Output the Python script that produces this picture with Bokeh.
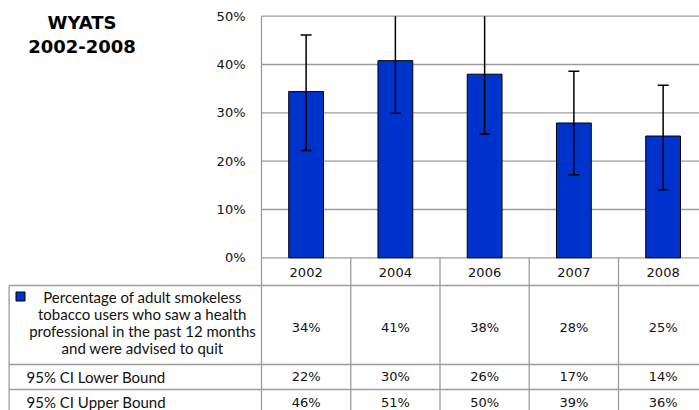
import numpy as np
from bokeh.plotting import figure
from bokeh.models import Range1d
from bokeh.core.properties import value
from bokeh.embed import file_html
from bokeh.resources import INLINE

# ---------------- data ----------------
years = ["2002", "2004", "2006", "2007", "2008"]
pct = [34.4, 40.8, 38.0, 27.9, 25.2]
ci_low = [22.2, 29.9, 25.6, 17.2, 14.1]
ci_high = [46.1, 51.0, 50.4, 38.6, 35.7]
y_ticks = [0, 10, 20, 30, 40, 50]
tick_labels = ["0%", "10%", "20%", "30%", "40%", "50%"]
title_lines = ["WYATS", "2002-2008"]
series_label = ["Percentage of adult smokeless",
                "tobacco users who saw a health",
                "professional in the past 12 months",
                "and were advised to quit"]
row_labels = ["95% CI Lower Bound", "95% CI Upper Bound"]

# ---------------- layout (pixels) ----------------
W, H = 699, 410
AXIS_PX = 261.0          # left edge of chart area
COL_W = 89.25            # width of one category column
ZERO_PX = 257.3          # y pixel of 0%
PX_PER_PCT = 4.832
YMAX = 50

x_start = -AXIS_PX / COL_W
x_end = (W - AXIS_PX) / COL_W
y_end = YMAX + (ZERO_PX - PX_PER_PCT * YMAX) / PX_PER_PCT
y_start = -(H - ZERO_PX) / PX_PER_PCT

p = figure(width=W, height=H, x_range=Range1d(x_start, x_end),
           y_range=Range1d(y_start, y_end), output_backend="svg",
           toolbar_location=None, min_border=0, x_axis_type=None,
           y_axis_type=None, outline_line_color=None)
p.extra_x_ranges = {"px": Range1d(0, W)}
p.extra_y_ranges = {"px": Range1d(H, 0)}
p.background_fill_color = "white"
p.border_fill_color = "white"

GRID = "#9c9c9c"
n = len(years)
xc = np.arange(n) + 0.5

# gridlines
p.segment(x0=0, x1=n, y0=y_ticks, y1=y_ticks, line_color=GRID, line_width=1.3)
# axis line
p.segment(x0=0, x1=0, y0=0, y1=YMAX, line_color=GRID, line_width=1.3)

# bars
p.vbar(x=xc, top=pct, bottom=0, width=0.39, fill_color="#0033cc",
       line_color="black", line_width=1)

# error bars (clipped at plot top)
hi = np.minimum(np.array(ci_high), YMAX)
lo = np.array(ci_low)
p.segment(x0=xc, x1=xc, y0=lo, y1=hi, line_color="black", line_width=1.5)
cap = 5.5 / COL_W
p.segment(x0=xc - cap, x1=xc + cap, y0=lo, y1=lo, line_color="black", line_width=1.5)
mask = np.array(ci_high) <= YMAX
p.segment(x0=xc[mask] - cap, x1=xc[mask] + cap, y0=np.array(ci_high)[mask],
          y1=np.array(ci_high)[mask], line_color="black", line_width=1.5)

# y tick labels
p.text(x=0, y=y_ticks, text=tick_labels, x_offset=-16, text_align="right",
       text_baseline="middle", text_font=value("DejaVu Sans"),
       text_font_size="13px", text_color="#111111")

# title
p.text(x=81.5, y=[22, 46], text=title_lines, x_range_name="px", y_range_name="px",
       text_align="center", text_baseline="middle", text_font=value("DejaVu Sans"),
       text_font_style="bold", text_font_size="18px", text_color="black")

# ---------------- table ----------------
ROW_LINES = [285.0, 364.0, 389.0]
cols = np.arange(n + 1)
p.segment(x0=cols, x1=cols, y0=ZERO_PX, y1=H, y_range_name="px",
          line_color=GRID, line_width=1.3)
p.segment(x0=0, x1=n, y0=ROW_LINES, y1=ROW_LINES, y_range_name="px",
          line_color=GRID, line_width=1.3)
p.segment(x0=8.6, x1=AXIS_PX, y0=ROW_LINES, y1=ROW_LINES, x_range_name="px",
          y_range_name="px", line_color=GRID, line_width=1.3)
p.segment(x0=8.6, x1=8.6, y0=ROW_LINES[0], y1=H, x_range_name="px",
          y_range_name="px", line_color=GRID, line_width=1.3)

VAL_FONT = dict(text_font=value("DejaVu Sans"), text_font_size="13px",
                text_color="#111111", text_align="center", text_baseline="middle")
p.text(x=xc, y=272, text=years, y_range_name="px", **VAL_FONT)
p.text(x=xc, y=326.7, text=[f"{round(v)}%" for v in pct], y_range_name="px", **VAL_FONT)
p.text(x=xc, y=376, text=[f"{round(v)}%" for v in ci_low], y_range_name="px", **VAL_FONT)
p.text(x=xc, y=401.5, text=[f"{round(v)}%" for v in ci_high], y_range_name="px", **VAL_FONT)

# legend key and series label
p.scatter(x=[20], y=[296], marker="square", size=9, fill_color="#0033cc",
          line_color="black", line_width=1, x_range_name="px", y_range_name="px")
p.text(x=142, y=[296, 313, 330, 347], text=series_label, x_range_name="px",
       y_range_name="px", text_align="center", text_baseline="middle",
       text_font=value("Lato"), text_font_size="15px", text_color="#111111")
p.text(x=26, y=[376, 401.5], text=row_labels, x_range_name="px", y_range_name="px",
       text_align="left", text_baseline="middle", text_font=value("Lato"),
       text_font_size="15px", text_color="#111111")

open("out.html", "w").write(file_html(p, INLINE))
